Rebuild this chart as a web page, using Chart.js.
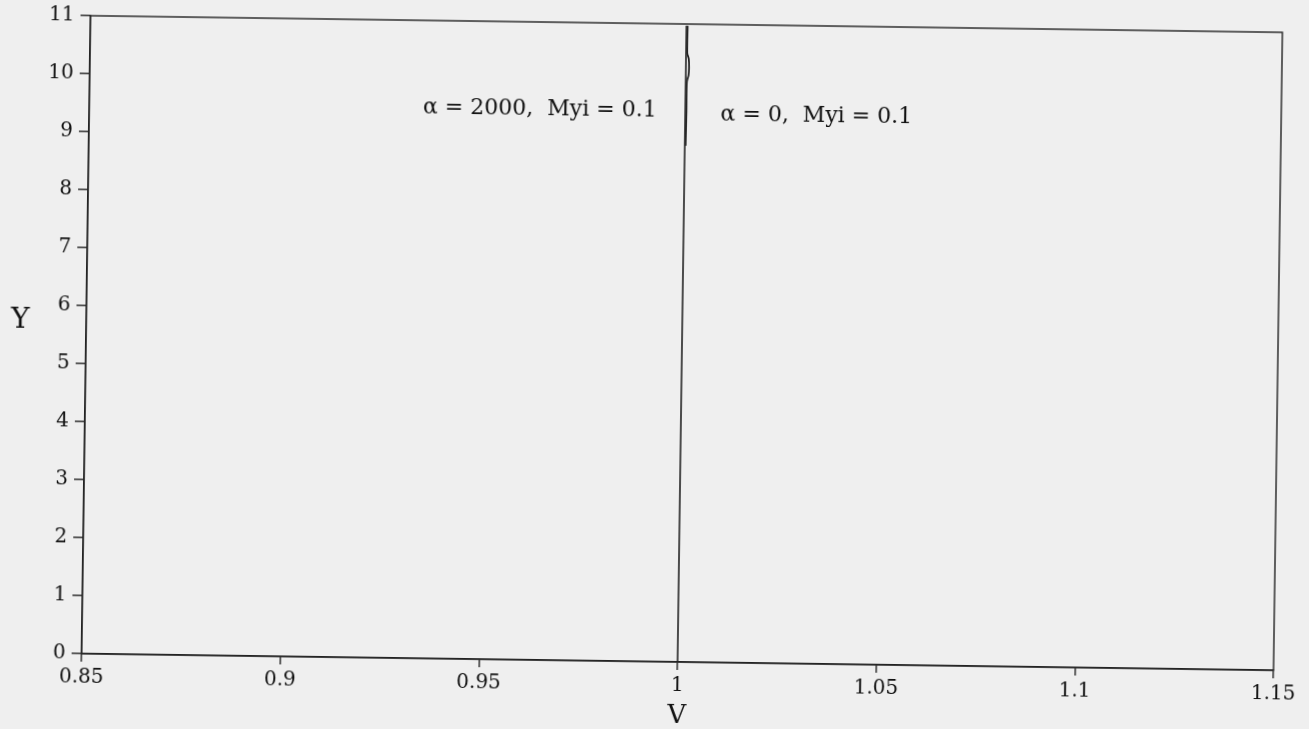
<!DOCTYPE html>
<html>
<head>
<meta charset="utf-8">
<script src="https://cdn.jsdelivr.net/npm/chart.js@4.4.1/dist/chart.umd.min.js"></script>
<style>
  html, body { margin: 0; padding: 0; background: #efefef; overflow: hidden; }
  #wrap { position: absolute; left: 0; top: 0; width: 1309px; height: 729px;
          transform-origin: 682px 344px; transform: rotate(0.8deg); }
  canvas { display: block; }
</style>
</head>
<body>
<div id="wrap"><canvas id="c" width="1309" height="729"></canvas></div>
<script>
// Axis ranges and ticks
const xTicks = [0.85, 0.9, 0.95, 1, 1.05, 1.1, 1.15];
const yTicks = [0, 1, 2, 3, 4, 5, 6, 7, 8, 9, 10, 11];

// Series: alpha = 0, Myi = 0.1 (straight profile)
const seriesA_Y = [0, 2, 4, 6, 8, 10, 10.97];
const seriesA_V = [1.0, 1.0, 1.0, 1.0, 1.0, 1.0, 1.0];

// Series: alpha = 2000, Myi = 0.1 (small bulge near the top)
const seriesB_Y = [8.9, 9.5, 10.0, 10.12, 10.25, 10.4, 10.5, 10.97];
const seriesB_V = [1.0002, 1.0003, 1.0003, 1.0007, 1.0008, 1.0007, 1.0003, 1.0003];

// Annotations
const labelTexts = ['\u03B1 = 2000,  Myi = 0.1', '\u03B1 = 0,  Myi = 0.1'];
const labelX = [0.9928, 1.0089];
const labelY = [9.5, 9.45];
const labelAlign = ['right', 'left'];

const FONT = '"DejaVu Serif", "Liberation Serif", serif';
const INK = '#222222';
const TXT = '#111111';

const toPts = (xs, ys) => xs.map((v, i) => ({ x: v, y: ys[i] }));

const framePlugin = {
  id: 'frame',
  afterDraw(chart) {
    const { ctx, chartArea: a, scales } = chart;
    ctx.save();
    ctx.strokeStyle = INK;
    ctx.lineWidth = 1.4;
    ctx.strokeRect(a.left, a.top, a.right - a.left, a.bottom - a.top);
    // annotations
    ctx.fillStyle = TXT;
    ctx.font = '22px ' + FONT;
    ctx.textBaseline = 'middle';
    labelTexts.forEach((t, i) => {
      ctx.textAlign = labelAlign[i];
      ctx.fillText(t, scales.x.getPixelForValue(labelX[i]), scales.y.getPixelForValue(labelY[i]));
    });
    // axis titles (upright)
    ctx.font = '28px ' + FONT;
    ctx.textAlign = 'center';
    ctx.fillText('Y', 20, 330);
    ctx.font = '26px ' + FONT;
    ctx.fillText('V', scales.x.getPixelForValue(1.0), 716);
    ctx.restore();
  }
};

new Chart(document.getElementById('c'), {
  type: 'scatter',
  data: {
    datasets: [
      { label: 'alpha=0', data: toPts(seriesA_V, seriesA_Y), showLine: true,
        borderColor: INK, borderWidth: 1.6, pointRadius: 0, tension: 0 },
      { label: 'alpha=2000', data: toPts(seriesB_V, seriesB_Y), showLine: true,
        borderColor: INK, borderWidth: 1.8, pointRadius: 0, tension: 0.3 }
    ]
  },
  options: {
    responsive: false,
    animation: false,
    events: [],
    layout: { padding: { top: 24, right: 31, left: 0, bottom: 0 } },
    plugins: { legend: { display: false }, tooltip: { enabled: false } },
    scales: {
      x: {
        type: 'linear', min: xTicks[0], max: xTicks[xTicks.length - 1],
        afterBuildTicks: (s) => { s.ticks = xTicks.map(v => ({ value: v })); },
        afterFit: (s) => { s.height = 67; },
        border: { display: true, color: INK, width: 1.4 },
        grid: { display: true, drawOnChartArea: false, drawTicks: true, tickLength: 8, color: INK, lineWidth: 1.4 },
        ticks: { color: TXT, font: { family: FONT, size: 20 }, padding: 4, maxRotation: 0,
                 callback: (v) => String(Math.round(v * 100) / 100) }
      },
      y: {
        type: 'linear', min: yTicks[0], max: yTicks[yTicks.length - 1],
        afterBuildTicks: (s) => { s.ticks = yTicks.map(v => ({ value: v })); },
        afterFit: (s) => { s.width = 86; },
        border: { display: true, color: INK, width: 1.4 },
        grid: { display: true, drawOnChartArea: false, drawTicks: true, tickLength: 10, color: INK, lineWidth: 1.4 },
        ticks: { color: TXT, font: { family: FONT, size: 20 }, padding: 6,
                 callback: (v) => String(v) }
      }
    }
  },
  plugins: [framePlugin]
});
</script>
</body>
</html>
